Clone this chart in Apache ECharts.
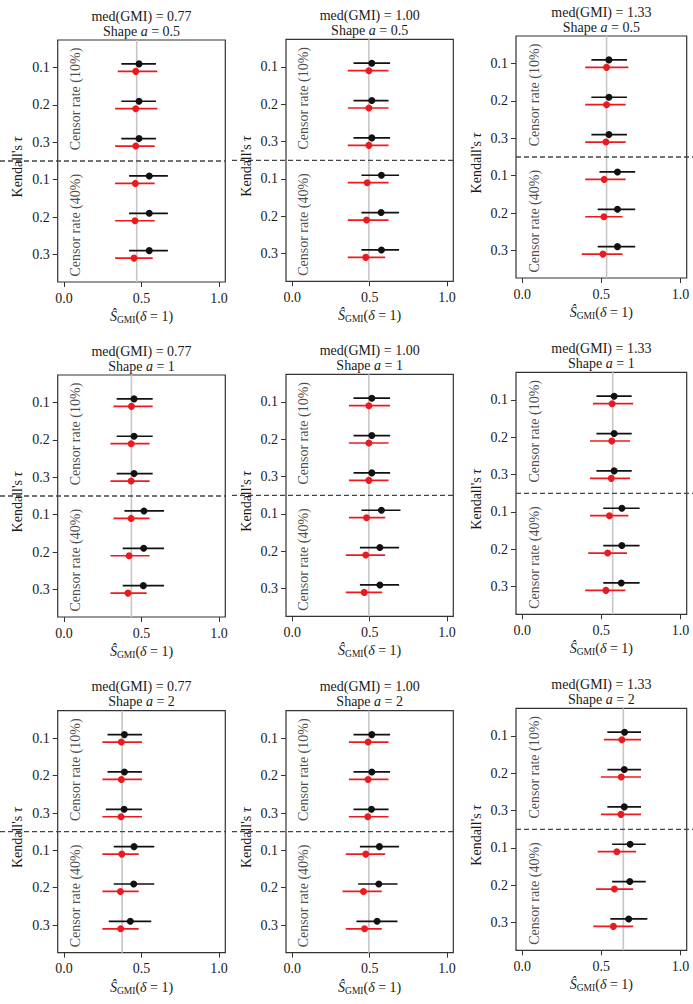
<!DOCTYPE html>
<html><head><meta charset="utf-8">
<script src="https://cdn.jsdelivr.net/npm/echarts@6/dist/echarts.min.js"></script>
<style>html,body{margin:0;padding:0;background:#fff}#c{width:693px;height:1004px}</style>
</head><body><div id="c"></div>
<script>
// ---------- data (panels row-major: rows = shape a, cols = med(GMI)) ----------
const medGMI = ['0.77', '1.00', '1.33'];
const shapeA = ['0.5', '1', '2'];
const tauLabels = ['0.1', '0.2', '0.3', '0.1', '0.2', '0.3'];
const censorLabels = ['Censor rate (10%)', 'Censor rate (40%)'];
const xTicks = [0, 0.5, 1.0];
const truthLine = [0.469, 0.495, 0.533, 0.435, 0.495, 0.572, 0.375, 0.495, 0.639];

const blackEst = [
  [0.484,0.484,0.484,0.550,0.550,0.550],
  [0.514,0.514,0.514,0.576,0.574,0.576],
  [0.548,0.548,0.548,0.602,0.602,0.602],
  [0.452,0.452,0.452,0.516,0.514,0.512],
  [0.514,0.514,0.514,0.576,0.566,0.566],
  [0.581,0.581,0.581,0.630,0.630,0.626],
  [0.390,0.390,0.388,0.452,0.450,0.428],
  [0.514,0.514,0.512,0.563,0.559,0.548],
  [0.647,0.645,0.645,0.682,0.680,0.673]
];
const blackLo = [
  [0.370,0.370,0.370,0.420,0.420,0.420],
  [0.396,0.396,0.396,0.447,0.447,0.447],
  [0.437,0.437,0.437,0.488,0.477,0.477],
  [0.340,0.340,0.340,0.390,0.379,0.379],
  [0.396,0.396,0.396,0.447,0.437,0.437],
  [0.469,0.469,0.469,0.512,0.512,0.512],
  [0.281,0.281,0.270,0.321,0.321,0.289],
  [0.396,0.396,0.396,0.437,0.426,0.415],
  [0.538,0.538,0.538,0.568,0.568,0.557]
];
const blackHi = [
  [0.593,0.593,0.593,0.670,0.670,0.670],
  [0.632,0.622,0.632,0.690,0.690,0.690],
  [0.662,0.662,0.662,0.714,0.714,0.714],
  [0.572,0.572,0.572,0.645,0.645,0.645],
  [0.632,0.632,0.632,0.699,0.690,0.690],
  [0.692,0.692,0.692,0.742,0.742,0.742],
  [0.503,0.503,0.503,0.582,0.582,0.563],
  [0.632,0.632,0.622,0.690,0.680,0.680],
  [0.751,0.751,0.751,0.781,0.781,0.791]
];
const redEst = [
  [0.463,0.463,0.463,0.460,0.458,0.452],
  [0.495,0.495,0.495,0.484,0.480,0.475],
  [0.533,0.533,0.529,0.518,0.516,0.510],
  [0.435,0.433,0.433,0.433,0.420,0.413],
  [0.495,0.495,0.495,0.480,0.475,0.465],
  [0.568,0.566,0.563,0.551,0.540,0.529],
  [0.370,0.370,0.368,0.373,0.364,0.366],
  [0.490,0.490,0.488,0.475,0.460,0.467],
  [0.630,0.626,0.624,0.598,0.583,0.576]
];
const redLo = [
  [0.347,0.330,0.330,0.330,0.330,0.330],
  [0.359,0.359,0.359,0.359,0.359,0.359],
  [0.398,0.398,0.398,0.398,0.398,0.376],
  [0.319,0.300,0.300,0.319,0.300,0.300],
  [0.366,0.366,0.366,0.366,0.346,0.346],
  [0.447,0.428,0.428,0.428,0.417,0.398],
  [0.248,0.248,0.248,0.248,0.248,0.248],
  [0.366,0.366,0.366,0.346,0.325,0.346],
  [0.516,0.497,0.497,0.477,0.467,0.449]
];
const redHi = [
  [0.602,0.602,0.585,0.585,0.585,0.572],
  [0.622,0.622,0.622,0.622,0.622,0.600],
  [0.671,0.654,0.654,0.654,0.634,0.634],
  [0.572,0.552,0.552,0.552,0.552,0.533],
  [0.632,0.622,0.622,0.600,0.600,0.581],
  [0.701,0.682,0.682,0.671,0.662,0.652],
  [0.503,0.503,0.503,0.482,0.482,0.482],
  [0.622,0.622,0.622,0.600,0.578,0.578],
  [0.751,0.751,0.751,0.720,0.701,0.701]
];

// ---------- layout ----------
const FONT = "'Liberation Serif', 'DejaVu Serif', serif";
const FS = 14;
const TXT = '#1a1a1a';
const boxLeft = [57.7, 286, 516];
const boxW = [167.6, 167.3, 170.7];
const boxTop = [[40, 39.3, 36], [375, 374.3, 372.3], [710.7, 710.7, 708.3]];
const BOX_H = 242;
const dashSpan = [[0, 225.3], [232, 453.3], [516, 693]];
const X_MIN = -0.04, X_MAX = 1.04, Y_MIN = 0.26, Y_MAX = 6.74;
const SEP = 3.5, OFF = 0.1;
const RED = '#ec1a1f', BLACK = '#111111';

const grid = [], xAxis = [], yAxis = [], series = [], graphic = [];

function ciSeries(k, est, lo, hi, off, color, z) {
  return {
    type: 'custom', xAxisIndex: k, yAxisIndex: k, z: z, silent: true,
    data: est.map((e, i) => [e, lo[i], hi[i], i + 1 + off]),
    encode: { x: [0, 1, 2], y: 3 },
    renderItem(params, api) {
      const y = api.value(3);
      const p = api.coord([api.value(0), y]);
      const a = api.coord([api.value(1), y]);
      const b = api.coord([api.value(2), y]);
      return { type: 'group', children: [
        { type: 'line', shape: { x1: a[0], y1: a[1], x2: b[0], y2: b[1] }, style: { stroke: color, lineWidth: 1.7 } },
        { type: 'circle', shape: { cx: p[0], cy: p[1], r: 3.5 }, style: { fill: color } }
      ]};
    }
  };
}

for (let k = 0; k < 9; k++) {
  const r = Math.floor(k / 3), c = k % 3;
  const L = boxLeft[c], W = boxW[c], T = boxTop[r][c];
  grid.push({ left: L, top: T, width: W, height: BOX_H, show: true, borderColor: '#333', borderWidth: 1.2, backgroundColor: 'transparent', containLabel: false });
  xAxis.push({
    gridIndex: k, type: 'value', min: X_MIN, max: X_MAX,
    axisLine: { show: false, onZero: false }, splitLine: { show: false },
    axisTick: { show: true, customValues: xTicks, length: 5, inside: false, lineStyle: { color: '#333', width: 1 } },
    axisLabel: { customValues: xTicks, formatter: v => v.toFixed(1), margin: 9, fontSize: FS, fontFamily: FONT, color: TXT },
    name: '{s|Ŝ}{g|GMI}{t|(}{d|δ}{t| = 1)}', nameLocation: 'middle', nameGap: 26,
    nameTextStyle: { fontFamily: FONT, color: TXT, rich: {
      s: { fontSize: FS, fontStyle: 'italic', fontFamily: FONT, color: TXT, lineHeight: 17 },
      g: { fontSize: 9.5, fontFamily: FONT, color: TXT, lineHeight: 10, verticalAlign: 'bottom' },
      t: { fontSize: FS, fontFamily: FONT, color: TXT, lineHeight: 17 },
      d: { fontSize: FS, fontStyle: 'italic', fontFamily: FONT, color: TXT, lineHeight: 17 }
    } }
  });
  yAxis.push({
    gridIndex: k, type: 'value', inverse: true, min: Y_MIN, max: Y_MAX,
    axisLine: { show: false, onZero: false }, splitLine: { show: false },
    axisTick: { show: true, customValues: [1, 2, 3, 4, 5, 6], length: 5, inside: false, lineStyle: { color: '#333', width: 1 } },
    axisLabel: { customValues: [1, 2, 3, 4, 5, 6], formatter: v => tauLabels[Math.round(v) - 1], margin: 8, fontSize: FS, fontFamily: FONT, color: TXT },
    name: "Kendall's {t|τ}", nameLocation: 'middle', nameGap: 33, nameRotate: 90,
    nameTextStyle: { fontSize: FS, fontFamily: FONT, color: TXT, padding: [0, 12, 0, 0], rich: { t: { fontSize: FS, fontStyle: 'italic', fontFamily: FONT, color: TXT } } }
  });
  // truth (grey vertical) line
  series.push({ type: 'line', xAxisIndex: k, yAxisIndex: k, silent: true, z: 1, symbol: 'none',
    data: [[truthLine[k], Y_MIN], [truthLine[k], Y_MAX]], lineStyle: { color: '#c6c6c6', width: 1.6 } });
  series.push(ciSeries(k, blackEst[k], blackLo[k], blackHi[k], -OFF, BLACK, 5));
  series.push(ciSeries(k, redEst[k], redLo[k], redHi[k], OFF, RED, 6));
  // censor-rate labels inside box
  series.push({ type: 'scatter', xAxisIndex: k, yAxisIndex: k, silent: true, symbolSize: 0.1, itemStyle: { color: 'transparent' },
    data: [{ value: [0.076, 1.84], name: censorLabels[0] }, { value: [0.076, 5.22], name: censorLabels[1] }],
    label: { show: true, position: 'inside', rotate: 90, formatter: '{b}', fontSize: FS, fontFamily: FONT, color: TXT } });
  // titles
  const cx = L + W / 2;
  graphic.push({ type: 'text', x: cx, y: T - 24, style: { text: 'med(GMI) = ' + medGMI[c], fontSize: FS, fontFamily: FONT, fill: TXT, align: 'center', verticalAlign: 'middle' } });
  graphic.push({ type: 'text', x: cx, y: T - 9, style: { text: 'Shape {i|a} = ' + shapeA[r], fontSize: FS, fontFamily: FONT, fill: TXT, align: 'center', verticalAlign: 'middle',
    rich: { i: { fontStyle: 'italic', fontSize: FS, fontFamily: FONT, fill: TXT } } } });
}
// dashed separator grids (extend into margins)
for (let k = 0; k < 9; k++) {
  const r = Math.floor(k / 3), c = k % 3;
  const gi = 9 + k;
  grid.push({ left: dashSpan[c][0], top: boxTop[r][c], width: dashSpan[c][1] - dashSpan[c][0], height: BOX_H, show: false });
  xAxis.push({ gridIndex: gi, type: 'value', min: 0, max: 1, show: false });
  yAxis.push({ gridIndex: gi, type: 'value', inverse: true, min: Y_MIN, max: Y_MAX, show: false });
  series.push({ type: 'line', xAxisIndex: gi, yAxisIndex: gi, silent: true, z: 2, symbol: 'none',
    data: [[0, SEP], [1, SEP]], lineStyle: { color: '#444', width: 1.3, type: [5, 3] } });
}

const chart = echarts.init(document.getElementById('c'), null, { renderer: 'svg' });
chart.setOption({ animation: false, backgroundColor: '#fff', grid, xAxis, yAxis, series, graphic });
</script></body></html>
